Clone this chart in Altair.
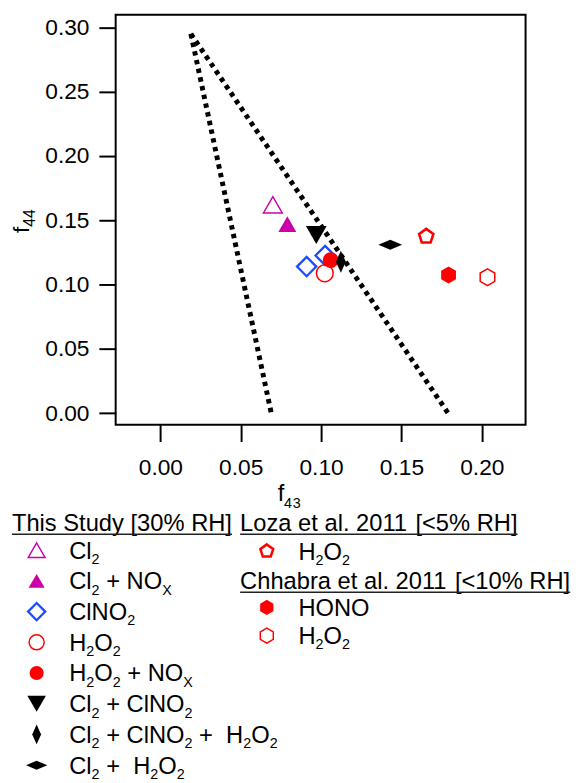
import re
import altair as alt
import pandas as pd

# ---------------- data ----------------
series_names = ["Cl2", "Cl2 + NOx", "ClNO2", "H2O2", "H2O2 + NOx",
                "Cl2 + ClNO2", "Cl2 + ClNO2 + H2O2", "Cl2 + H2O2",
                "Loza H2O2", "Chhabra HONO", "Chhabra H2O2"]

point_series = ["Cl2", "Cl2 + NOx", "ClNO2", "ClNO2", "H2O2", "H2O2 + NOx",
                "Cl2 + ClNO2", "Cl2 + ClNO2 + H2O2", "Cl2 + H2O2",
                "Loza H2O2", "Chhabra HONO", "Chhabra H2O2"]
point_f43 = [0.070, 0.079, 0.091, 0.1025, 0.1023, 0.106, 0.097, 0.1123, 0.143, 0.1654, 0.1793, 0.2035]
point_f44 = [0.162, 0.147, 0.114, 0.1226, 0.1088, 0.119, 0.1385, 0.1177, 0.131, 0.1375, 0.1075, 0.1057]

triangle_edge = ["left", "left", "right", "right"]
triangle_f43 = [0.019, 0.069, 0.019, 0.179]
triangle_f44 = [0.295, 0.0, 0.295, 0.0]

x_ticks = [0.0, 0.05, 0.10, 0.15, 0.20]
y_ticks = [0.0, 0.05, 0.10, 0.15, 0.20, 0.25, 0.30]

x_title = "f_4_3"
y_title = "f_4_4"

legend_headers = ["This Study [30% RH]", "Loza et al. 2011 [<5% RH]", "Chhabra et al. 2011 [<10% RH]"]
legend_labels = ["Cl_2", "Cl_2 + NO_X", "ClNO_2", "H_2O_2", "H_2O_2 + NO_X", "Cl_2 + ClNO_2",
                 "Cl_2 + ClNO_2 +  H_2O_2", "Cl_2 +  H_2O_2", "H_2O_2", "HONO", "H_2O_2"]

# ---------------- styles ----------------
FONT = "Liberation Sans"
MAG = "#CC00AA"
BLUE = "#1A4BFF"
RED = "#FF0000"
BLK = "#000000"
PENT = "M0,-1L0.951,-0.309L0.588,0.809L-0.588,0.809L-0.951,-0.309Z"
HEX = "M0,-1L0.866,-0.5L0.866,0.5L0,1L-0.866,0.5L-0.866,-0.5Z"
VDIA = "M0,-1L0.45,0L0,1L-0.45,0Z"
HDIA = "M-1,0L0,-0.42L1,0L0,0.42Z"

style = {
    "Cl2": dict(shape="triangle-up", size=361, filled=False, color=MAG, sw=1.5),
    "Cl2 + NOx": dict(shape="triangle-up", size=330, filled=True, color=MAG, sw=0),
    "ClNO2": dict(shape="diamond", size=380, filled=False, color=BLUE, sw=2.3),
    "H2O2": dict(shape="circle", size=289, filled=False, color=RED, sw=1.5),
    "H2O2 + NOx": dict(shape="circle", size=256, filled=True, color=RED, sw=0),
    "Cl2 + ClNO2": dict(shape="triangle-down", size=441, filled=True, color=BLK, sw=0),
    "Cl2 + ClNO2 + H2O2": dict(shape=VDIA, size=500, filled=True, color=BLK, sw=0),
    "Cl2 + H2O2": dict(shape=HDIA, size=576, filled=True, color=BLK, sw=0),
    "Loza H2O2": dict(shape=PENT, size=231, filled=False, color=RED, sw=2.6),
    "Chhabra HONO": dict(shape=HEX, size=300, filled=True, color=RED, sw=0),
    "Chhabra H2O2": dict(shape=HEX, size=289, filled=False, color=RED, sw=1.5),
}

# ---------------- plot ----------------
W_PLOT, H_PLOT = 415, 415
x_scale = alt.Scale(domain=[-0.0278, 0.2272], nice=False, zero=False)
y_scale = alt.Scale(domain=[-0.009, 0.3098], nice=False, zero=False)

x_axis = alt.Axis(values=x_ticks, format=".2f", title=None, grid=False, domain=False,
                  tickSize=17, tickWidth=2, tickColor="black", labelFont=FONT,
                  labelFontSize=23, labelColor="black", labelPadding=15,
                  labelFlush=False, labelOverlap=False)
y_axis = alt.Axis(values=y_ticks, format=".2f", title=None, grid=False, domain=False,
                  tickSize=17, tickWidth=2, tickColor="black", labelFont=FONT,
                  labelFontSize=23, labelColor="black", labelPadding=10,
                  labelFlush=False, labelOverlap=False)

tri_df = pd.DataFrame({"edge": triangle_edge, "f43": triangle_f43, "f44": triangle_f44})
pts_df = pd.DataFrame({"series": point_series, "f43": point_f43, "f44": point_f44})

plot_layers = [
    alt.Chart(tri_df).mark_line(color="black", strokeWidth=5, strokeDash=[4.5, 4.5], strokeCap="butt")
    .encode(x=alt.X("f43:Q", scale=x_scale, axis=x_axis),
            y=alt.Y("f44:Q", scale=y_scale, axis=y_axis),
            detail="edge:N")
]
for s in series_names:
    st = style[s]
    kw = dict(shape=st["shape"], size=st["size"], filled=st["filled"], color=st["color"], opacity=1)
    kw["strokeWidth"] = st["sw"] if not st["filled"] else 0
    plot_layers.append(
        alt.Chart(pts_df[pts_df.series == s]).mark_point(**kw)
        .encode(x=alt.X("f43:Q", scale=x_scale, axis=x_axis),
                y=alt.Y("f44:Q", scale=y_scale, axis=y_axis))
    )

# ---------------- legend / titles layout (pixel layout) ----------------
OX, OY = 117, 10  # page position of plot origin
W = {' ': .278, '+': .584, '.': .278, '[': .278, ']': .278, '%': .889, '<': .584,
     '0': .556, '1': .556, '2': .556, '3': .556, '4': .556, '5': .556,
     'A': .667, 'C': .722, 'H': .722, 'L': .556, 'N': .722, 'O': .778, 'R': .722,
     'S': .667, 'T': .611, 'X': .667, 'a': .556, 'b': .556, 'd': .556, 'e': .556,
     'h': .556, 'i': .222, 'l': .222, 'o': .556, 'r': .333, 's': .5, 't': .278,
     'u': .556, 'y': .5, 'z': .5, 'f': .278}


def tw(s, fs):
    return sum(W.get(c, 0.556) for c in s) * fs


def layout(markup, x0, base, fs, fss, drop):
    out = []
    x = x0
    for sub, main in re.findall(r"_(.)|([^_]+)", markup):
        if sub:
            out.append(dict(text=sub, off=x - x0, px=x, py=base + drop, kind="sub"))
            x += tw(sub, fss)
        else:
            for m in re.finditer(r"\S+|\s+", main):
                t = m.group()
                if not t.isspace():
                    out.append(dict(text=t, off=x - x0, px=x, py=base, kind="main"))
                x += tw(t, fs)
    return out, x


FS, FSS, DROP = 24, 14.5, 5.5
texts, syms, rules = [], [], []

left_centers = [552 + 31.1 * i for i in range(8)]
right_centers = [524.5, 553, 583, 610, 638.5]
hdr_pos = [(12, 524.5), (243, right_centers[0]), (243, right_centers[2])]
for h, (hx, hc) in zip(legend_headers, hdr_pos):
    segs, xe = layout(h, hx, hc + 8, FS, FSS, DROP)
    texts += segs
    rules.append(dict(px=hx, px2=xe, py=hc + 11.5))

item_pos = [(37, 70, c) for c in left_centers] + \
           [(270, 302, right_centers[1]), (270, 302, right_centers[3]), (270, 302, right_centers[4])]
for s, lab, (sx, lx, c) in zip(series_names, legend_labels, item_pos):
    syms.append(dict(series=s, px=sx, py=c))
    segs, _ = layout(lab, lx, c + 8.5, FS, FSS, DROP)
    texts += segs

# x-axis title
xt_segs, _ = layout(x_title, 281, 502, 23, 16, 7)
# y-axis title (rotated, reading upwards)
yt_raw, _ = layout(y_title, 0, 0, 23, 16, 6)
yt_segs = []
for r in yt_raw:
    bx = 29 + (6 if r["kind"] == "sub" else 0)
    yt_segs.append(dict(text=r["text"], px=bx, py=231 - r["off"], kind=r["kind"]))


def to_view(rows, keys=("px", "py", "px2")):
    df = pd.DataFrame(rows)
    for k in keys:
        if k in df:
            df[k] = df[k] - (OX if k.startswith("px") else OY)
    return df


texts_df = to_view(texts + xt_segs)
yt_df = to_view(yt_segs)
syms_df = to_view(syms)
rules_df = to_view(rules)

lx_scale = alt.Scale(domain=[0, 1000], range=[0, 1000], nice=False, zero=False)
ly_scale = alt.Scale(domain=[0, 1000], range=[0, 1000], nice=False, zero=False)
LX = lambda f: alt.X(f, scale=lx_scale, axis=None)
LY = lambda f: alt.Y(f, scale=ly_scale, axis=None)

legend_layers = []
for s in series_names:
    st = style[s]
    kw = dict(shape=st["shape"], size=st["size"] * 0.8, filled=st["filled"], color=st["color"], opacity=1)
    kw["strokeWidth"] = st["sw"] if not st["filled"] else 0
    legend_layers.append(
        alt.Chart(syms_df[syms_df.series == s]).mark_point(**kw)
        .encode(x=LX("px:Q"), y=LY("py:Q"))
    )

main_df = texts_df[texts_df.kind == "main"]
sub_df = texts_df[texts_df.kind == "sub"]
legend_layers += [
    alt.Chart(main_df).mark_text(align="left", baseline="alphabetic", font=FONT, fontSize=FS, color="black")
    .encode(x=LX("px:Q"), y=LY("py:Q"), text="text:N"),
    alt.Chart(sub_df).mark_text(align="left", baseline="alphabetic", font=FONT, fontSize=FSS, color="black")
    .encode(x=LX("px:Q"), y=LY("py:Q"), text="text:N"),
    alt.Chart(rules_df).mark_rule(color="#222222", strokeWidth=1.5)
    .encode(x=LX("px:Q"), x2="px2:Q", y=LY("py:Q")),
    alt.Chart(yt_df[yt_df.kind == "main"]).mark_text(align="left", baseline="alphabetic", font=FONT,
                                                     fontSize=23, angle=270, color="black")
    .encode(x=LX("px:Q"), y=LY("py:Q"), text="text:N"),
    alt.Chart(yt_df[yt_df.kind == "sub"]).mark_text(align="left", baseline="alphabetic", font=FONT,
                                                    fontSize=16, angle=270, color="black")
    .encode(x=LX("px:Q"), y=LY("py:Q"), text="text:N"),
]

chart = alt.layer(alt.layer(*plot_layers), alt.layer(*legend_layers)).resolve_scale(
    x="independent", y="independent"
).properties(
    width=W_PLOT, height=H_PLOT,
    autosize=alt.AutoSizeParams(type="none"),
    padding={"left": 109, "top": 2, "right": 46, "bottom": 372},
    background="white",
).configure_view(stroke="black", strokeWidth=2)

chart.save("out.html", embed_options={"renderer": "svg", "actions": False})
